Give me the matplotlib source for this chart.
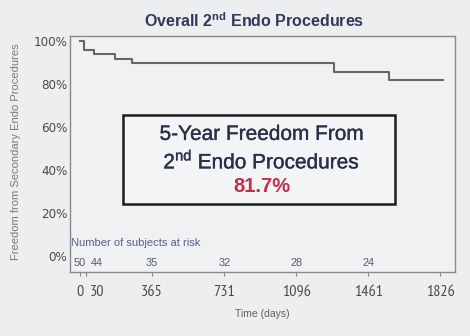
import matplotlib.pyplot as plt
import matplotlib.transforms as mtransforms
import matplotlib.patheffects as pe
from matplotlib.patches import Rectangle

plt.rcParams['font.family'] = ['Liberation Sans', 'DejaVu Sans']
plt.rcParams['mathtext.fontset'] = 'custom'
plt.rcParams['mathtext.rm'] = 'Liberation Sans'
plt.rcParams['mathtext.bf'] = 'Liberation Sans:bold'

# Kaplan-Meier step data: day of each level change and freedom (%) after it
event_days = [0, 20, 71, 177, 264, 1288, 1567, 1840]
freedom_pct = [100, 96.0, 94.0, 91.8, 89.6, 85.7, 81.7, 81.7]

tick_days = [0, 30, 365, 731, 1096, 1461, 1826]
risk_days = [0, 30, 365, 731, 1096, 1461]
at_risk = [50, 44, 35, 32, 28, 24]
y_ticks = [0, 20, 40, 60, 80, 100]
five_year = 81.7

bg = '#eceef0'
narrow = ['PT Sans Narrow', 'DejaVu Sans']
tick_col = '#4a4a4a'

fig = plt.figure(figsize=(4.7, 3.36), dpi=100, facecolor=bg)
ax = fig.add_axes([0.149, 0.19, 0.819, 0.703], facecolor='#eff1f3')

ax.step(event_days, freedom_pct, where='post', color='#666666', lw=1.5)

ax.set_xlim(-50, 1900)
ax.set_ylim(-7.4, 102.3)

for s in ax.spines.values():
    s.set_color('#8a8a8a')
    s.set_linewidth(1.0)

x_pad = 6.4
ax.set_xticks(tick_days)
ax.set_xticklabels(['' if d == 30 else str(d) for d in tick_days],
                   family=narrow, fontsize=11.5, color=tick_col)
ax.set_yticks(y_ticks)
ax.set_yticklabels([f'{v}%' for v in y_ticks], family='DejaVu Sans', stretch='condensed',
                   fontsize=9.5, color=tick_col)
ax.tick_params(axis='x', length=3, color='#8a8a8a', pad=x_pad)
ax.tick_params(axis='y', length=0, pad=2)

# "30" sits too close to "0", so its label and count are nudged right
shift = mtransforms.ScaledTranslation(0.11, 0, fig.dpi_scale_trans)
drop = mtransforms.ScaledTranslation(0.11, -(3 + x_pad) / 72, fig.dpi_scale_trans)
ax.text(30, 0, '30', transform=ax.get_xaxis_transform() + drop, ha='center', va='top',
        family=narrow, fontsize=11.5, color=tick_col)

ax.set_xlabel('Time (days)', fontsize=7.5, color='#606060')
ax.xaxis.set_label_coords(0.499, -0.157)
ax.set_ylabel('Freedom from Secondary Endo Procedures', fontsize=8, color='#7a7a7a')
ax.yaxis.set_label_coords(-0.128, 0.51)

# numbers at risk inside the plot
ax.text(0.002, 0.125, 'Number of subjects at risk', transform=ax.transAxes,
        fontsize=8, color='#56608a', va='center', ha='left')
for d, n in zip(risk_days, at_risk):
    tr = ax.get_xaxis_transform()
    if d == 30:
        tr = tr + shift
    ax.text(d, 0.04, str(n), transform=tr, fontsize=7.8, color='#555a70',
            ha='center', va='center')

fig.text(0.541, 0.94, r'Overall 2$^{\mathbf{nd}}$ Endo Procedures', ha='center', va='center',
         fontsize=11.5, fontweight='bold', color='#2f3a58')

# summary box
box_col = '#2b3048'
heavy = [pe.withStroke(linewidth=0.25, foreground=box_col)]
fig.add_artist(Rectangle((0.262, 0.393), 0.579, 0.265, transform=fig.transFigure,
                         facecolor='#f3f4f6', edgecolor='#1e1e1e', lw=1.8))
fig.text(0.557, 0.6, '5-Year Freedom From', ha='center', va='center',
         fontsize=15, color=box_col, path_effects=heavy)
fig.text(0.557, 0.522, r'2$^{\rm nd}$ Endo Procedures', ha='center', va='center',
         fontsize=15, color=box_col, path_effects=heavy)
fig.text(0.557, 0.444, f'{five_year}%', ha='center', va='center',
         fontsize=14.5, fontweight='bold', color='#c2304c')

fig.savefig('out.png', dpi=100, facecolor=bg)
